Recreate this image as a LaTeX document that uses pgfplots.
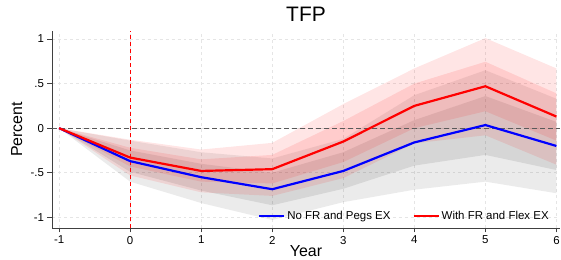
\documentclass[border=0pt]{standalone}
\usepackage{fontspec}
\setmainfont{Liberation Sans}
\usepackage{pgfplots}
\pgfplotsset{compat=1.18}
\usepackage{pgfplotstable}
\usepgfplotslibrary{fillbetween}

\pgfplotstableread{
x  b      b9l    b9u    b6l    b6u    r      r9l    r9u    r6l    r6u
-1 0      0      0      0      0      0      0      0      0      0
0  -0.37  -0.60  -0.14  -0.49  -0.25  -0.33  -0.53  -0.13  -0.43  -0.22
1  -0.55  -0.84  -0.27  -0.70  -0.40  -0.48  -0.72  -0.24  -0.60  -0.35
2  -0.685 -1.03  -0.34  -0.865 -0.50  -0.46  -0.76  -0.165 -0.62  -0.30
3  -0.48  -0.83  -0.12  -0.68  -0.27  -0.15  -0.56  0.27   -0.38  0.08
4  -0.16  -0.69  0.37   -0.42  0.09   0.25   -0.17  0.67   0.00   0.50
5  0.035  -0.60  0.65   -0.30  0.36   0.47   -0.08  1.01   0.19   0.745
6  -0.20  -0.73  0.33   -0.47  0.07   0.13   -0.41  0.67   -0.14  0.39
}\data

\begin{document}
\begin{tikzpicture}
\begin{axis}[
  at={(0,0)}, anchor=south west,
  scale only axis, width=508bp, height=197bp,
  xmin=-1.1, xmax=6.05, ymin=-1.12, ymax=1.09,
  axis x line*=bottom, axis y line*=left,
  axis line style={-, black!75, line width=0.9pt},
  xtick={-1,0,1,2,3,4,5,6},
  ytick={-1,-0.5,0,0.5,1},
  yticklabels={-1,-.5,0,.5,1},
  tick align=outside,
  major tick length=4.5bp,
  tick style={black!75, line width=0.8pt},
  grid=major,
  grid style={dashed, black!10, line width=0.6pt},
  ticklabel style={font=\fontsize{11.5}{12}\selectfont},
  /pgf/number format/assume math mode=true,
  title={TFP},
  title style={font=\fontsize{21}{21}\selectfont, at={(axis description cs:0.5,1)}, anchor=base, yshift=4bp},
  xlabel={Year},
  ylabel={Percent},
  every axis x label/.style={at={(axis description cs:0.5,0)}, anchor=base, yshift=-28bp, font=\fontsize{16}{16}\selectfont},
  every axis y label/.style={at={(axis description cs:-0.059,0.5)}, rotate=90, anchor=base, font=\fontsize{16}{16}\selectfont},
  legend columns=2,
  legend style={at={(axis description cs:0.982,0.061)}, anchor=east, draw=none, fill=none, inner sep=0pt,
    font=\fontsize{11.5}{12}\selectfont,
    /tikz/every even column/.append style={column sep=20bp}},
  legend image code/.code={\draw[#1, line width=2.2pt] (0bp,0bp) -- (25bp,0bp);},
]
\addplot[name path=b9u, draw=none, forget plot] table[x=x,y=b9u]{\data};
\addplot[name path=b9l, draw=none, forget plot] table[x=x,y=b9l]{\data};
\addplot[name path=b6u, draw=none, forget plot] table[x=x,y=b6u]{\data};
\addplot[name path=b6l, draw=none, forget plot] table[x=x,y=b6l]{\data};
\addplot[name path=r9u, draw=none, forget plot] table[x=x,y=r9u]{\data};
\addplot[name path=r9l, draw=none, forget plot] table[x=x,y=r9l]{\data};
\addplot[name path=r6u, draw=none, forget plot] table[x=x,y=r6u]{\data};
\addplot[name path=r6l, draw=none, forget plot] table[x=x,y=r6l]{\data};

\addplot[fill=black, fill opacity=0.08, draw=none, forget plot] fill between[of=b9u and b9l];
\addplot[fill=black, fill opacity=0.09, draw=none, forget plot] fill between[of=b6u and b6l];
\addplot[fill=red, fill opacity=0.10, draw=none, forget plot] fill between[of=r9u and r9l];
\addplot[fill=red, fill opacity=0.11, draw=none, forget plot] fill between[of=r6u and r6l];

\addplot[black!65, dashed, dash pattern=on 5bp off 3bp, line width=1.2pt, forget plot] coordinates {(-1.1,0) (6.05,0)};
\addplot[red, dashed, dash pattern=on 4bp off 3bp, line width=0.7pt, forget plot] coordinates {(0,-1.12) (0,1.09)};

\addplot[blue, line width=2.2pt] table[x=x,y=b]{\data};
\addlegendentry{No FR and Pegs EX}
\addplot[red, line width=2.2pt] table[x=x,y=r]{\data};
\addlegendentry{With FR and Flex EX}
\end{axis}
\pgfresetboundingbox
\path[use as bounding box] (-52bp,-32bp) rectangle (509bp,228bp);
\end{tikzpicture}
\end{document}
